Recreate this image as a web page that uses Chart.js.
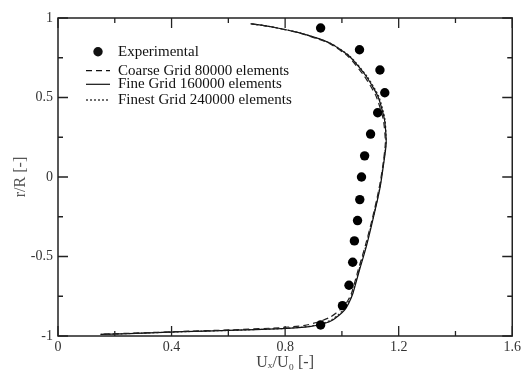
<!DOCTYPE html>
<html><head><meta charset="utf-8">
<script src="https://cdn.jsdelivr.net/npm/chart.js@4"></script>
<style>html,body{margin:0;padding:0;background:#fff}#wrap{width:524px;height:377px}</style>
</head><body><div id="wrap"><canvas id="c" width="524" height="377"></canvas></div>
<script>
const xTickLabels = ["0","0.4","0.8","1.2","1.6"];
const yTickLabels = ["-1","-0.5","0","0.5","1"];
const seriesNames = ["Experimental","Coarse Grid 80000 elements","Fine Grid 160000 elements","Finest Grid 240000 elements"];
const expX = [0.925,1.062,1.134,1.151,1.126,1.101,1.080,1.069,1.063,1.055,1.044,1.038,1.025,1.002,0.925];
const expY = [0.937,0.800,0.673,0.530,0.404,0.270,0.133,0.000,-0.142,-0.274,-0.402,-0.536,-0.681,-0.809,-0.931];
const fineX = [0.15,0.30,0.44,0.60,0.79,0.886,0.94,0.968,0.99,1.01,1.025,1.039,1.062,1.086,1.109,1.133,1.144,1.156,1.150,1.127,1.086,1.027,0.957,0.851,0.75,0.678];
const fineY = [-0.99,-0.982,-0.973,-0.965,-0.953,-0.941,-0.92,-0.899,-0.87,-0.836,-0.79,-0.731,-0.585,-0.438,-0.27,-0.08,0.045,0.213,0.36,0.506,0.632,0.758,0.843,0.906,0.945,0.964];
const coarseX = [0.16,0.30,0.44,0.60,0.78,0.87,0.92,0.955,0.98,1.003,1.02,1.035,1.058,1.082,1.106,1.130,1.142,1.153,1.146,1.121,1.080,1.022,0.953,0.848,0.75,0.678];
const coarseY = [-0.988,-0.980,-0.971,-0.962,-0.948,-0.933,-0.91,-0.885,-0.855,-0.82,-0.78,-0.725,-0.58,-0.435,-0.27,-0.08,0.045,0.213,0.36,0.506,0.632,0.758,0.843,0.906,0.945,0.964];
const finestX = [0.15,0.30,0.44,0.60,0.79,0.883,0.936,0.965,0.987,1.007,1.022,1.037,1.060,1.084,1.108,1.132,1.143,1.155,1.152,1.130,1.089,1.029,0.958,0.852,0.75,0.678];
const finestY = [-0.99,-0.982,-0.973,-0.965,-0.953,-0.940,-0.918,-0.896,-0.866,-0.832,-0.787,-0.729,-0.584,-0.437,-0.27,-0.08,0.045,0.213,0.36,0.506,0.632,0.758,0.843,0.906,0.945,0.964];

const pts = (xs, ys) => xs.map((x, i) => ({x, y: ys[i]}));
const FONT = "'Liberation Serif', 'DejaVu Serif', serif";

const frame = {
  id: 'frame',
  afterDatasetsDraw(chart) {
    const {ctx, chartArea: a, scales: {x, y}} = chart;
    ctx.save();
    ctx.strokeStyle = '#222';
    ctx.lineWidth = 1.5;
    ctx.strokeRect(a.left, a.top, a.right - a.left, a.bottom - a.top);
    ctx.lineWidth = 1.3;
    ctx.beginPath();
    for (let v = 0; v <= 1.6001; v += 0.2) {
      const px = x.getPixelForValue(v);
      const major = Math.abs(Math.round(v / 0.4) * 0.4 - v) < 1e-6;
      const L = major ? 10 : 5;
      ctx.moveTo(px, a.bottom); ctx.lineTo(px, a.bottom - L);
      ctx.moveTo(px, a.top); ctx.lineTo(px, a.top + L);
    }
    for (let v = -1; v <= 1.0001; v += 0.25) {
      const py = y.getPixelForValue(v);
      const major = Math.abs(Math.round(v / 0.5) * 0.5 - v) < 1e-6;
      const L = major ? 10 : 5;
      ctx.moveTo(a.left, py); ctx.lineTo(a.left + L, py);
      ctx.moveTo(a.right, py); ctx.lineTo(a.right - L, py);
    }
    ctx.stroke();
    // legend
    const rows = [51.7, 70.7, 84.3, 100];
    ctx.fillStyle = '#111';
    ctx.font = "15px " + FONT;
    ctx.textBaseline = 'middle';
    ctx.textAlign = 'left';
    seriesNames.forEach((n, i) => ctx.fillText(n, 118, rows[i]));
    ctx.beginPath(); ctx.arc(98, rows[0], 4.7, 0, Math.PI * 2); ctx.fill();
    const dashes = [[6, 4], [], [2, 2]];
    ctx.strokeStyle = '#111'; ctx.lineWidth = 1.2;
    dashes.forEach((d, i) => {
      ctx.setLineDash(d);
      ctx.beginPath(); ctx.moveTo(86, rows[i + 1]); ctx.lineTo(110, rows[i + 1]); ctx.stroke();
    });
    ctx.restore();
  }
};

new Chart(document.getElementById('c'), {
  type: 'scatter',
  data: {
    datasets: [
      {label: seriesNames[0], data: pts(expX, expY), pointRadius: 4.7, pointBackgroundColor: '#000', pointBorderWidth: 0, showLine: false},
      {label: seriesNames[1], data: pts(coarseX, coarseY), showLine: true, borderColor: '#222', borderWidth: 1.2, borderDash: [6, 4], pointRadius: 0, tension: 0.2},
      {label: seriesNames[2], data: pts(fineX, fineY), showLine: true, borderColor: '#111', borderWidth: 1.2, pointRadius: 0, tension: 0.2},
      {label: seriesNames[3], data: pts(finestX, finestY), showLine: true, borderColor: '#333', borderWidth: 1.2, borderDash: [2, 2], pointRadius: 0, tension: 0.2}
    ]
  },
  options: {
    responsive: false, animation: false, devicePixelRatio: 1,
    layout: {padding: {left: 0, right: 11, top: 18, bottom: 0}},
    plugins: {legend: {display: false}, tooltip: {enabled: false}},
    scales: {
      x: {
        type: 'linear', min: 0, max: 1.6,
        afterBuildTicks: s => { s.ticks = xTickLabels.map(t => ({value: parseFloat(t)})); },
        afterFit: s => { s.height = 41; },
        grid: {display: false, drawTicks: false},
        border: {display: false},
        ticks: {padding: 3, color: '#333', font: {family: FONT, size: 14}, maxRotation: 0, autoSkip: false,
          callback: (v, i) => xTickLabels[i]},
        title: {display: true, text: 'Uₓ/U₀ [-]', color: '#444', font: {family: FONT, size: 16}, padding: {top: 0, bottom: 5}}
      },
      y: {
        type: 'linear', min: -1, max: 1,
        afterBuildTicks: s => { s.ticks = yTickLabels.map(t => ({value: parseFloat(t)})); },
        afterFit: s => { s.width = 58; },
        grid: {display: false, drawTicks: false},
        border: {display: false},
        ticks: {padding: 5, color: '#333', font: {family: FONT, size: 14}, autoSkip: false,
          callback: (v, i) => yTickLabels[i]},
        title: {display: true, text: 'r/R [-]', color: '#555', font: {family: FONT, size: 16}, padding: {top: 11, bottom: 0}}
      }
    }
  },
  plugins: [frame]
});
</script></body></html>
